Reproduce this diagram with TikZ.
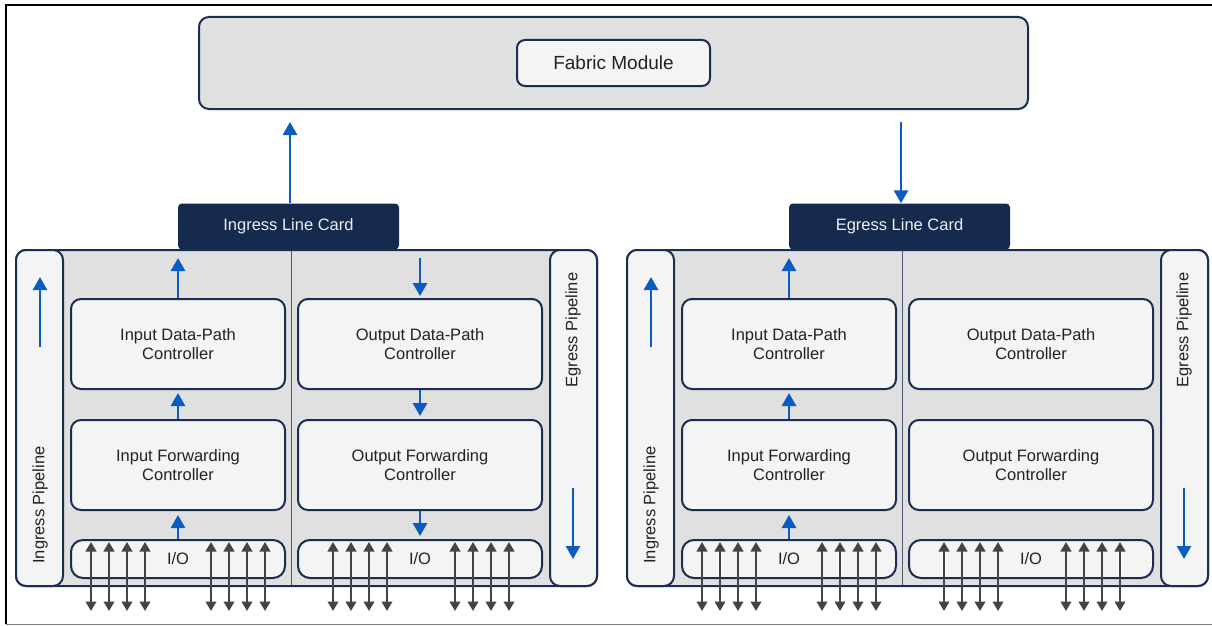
\documentclass[tikz,border=0pt]{standalone}
\usepackage{fontspec}
\setmainfont{Liberation Sans}
\usetikzlibrary{arrows.meta}
\definecolor{navy}{HTML}{1B2D50}
\definecolor{cardnavy}{HTML}{162A4E}
\definecolor{bodygray}{HTML}{E0E0E0}
\definecolor{boxfill}{HTML}{F4F4F4}
\definecolor{txt}{HTML}{222222}
\definecolor{flowblue}{HTML}{0B5CC0}
\definecolor{ioGray}{HTML}{444444}
\definecolor{divgray}{HTML}{4E5B70}
\begin{document}
\begin{tikzpicture}[x=1pt,y=-1pt,
  lbl/.style={font=\fontsize{16.5}{19}\selectfont, text=txt, align=center},
  box/.style={draw=navy, line width=2pt, fill=boxfill, rounded corners=10pt, inner sep=0pt, lbl},
  body/.style={draw=navy, line width=2pt, fill=bodygray, rounded corners=10pt, inner sep=0pt},
  strip/.style={draw=navy, line width=2pt, fill=boxfill, rounded corners=10pt, inner sep=0pt},
  lcard/.style={fill=cardnavy, rounded corners=4pt, inner sep=0pt, minimum width=221pt, minimum height=46pt,
    font=\fontsize{16.5}{19}\selectfont, text=white!92!cardnavy},
  flow/.style={draw=flowblue, line width=2.7pt, -{Triangle[width=14pt,length=13pt]}},
  io/.style={draw=ioGray, line width=2.6pt, {Triangle[width=10.5pt,length=9.5pt]}-{Triangle[width=10.5pt,length=9.5pt]}},
]
\useasboundingbox (0,0) rectangle (1212,626);
\fill[white] (0,0) rectangle (1212,626);
% outer frame
\draw[black, line width=2.5pt] (6,624) -- (6,5) -- (1212,5);
\draw[gray, line width=1.5pt] (6,624.5) -- (1212,624.5);

% fabric
\node[body, minimum width=829pt, minimum height=92pt] (fabric) at (613.5,63) {};
\node[box, rounded corners=8pt, minimum width=193pt, minimum height=46pt, font=\fontsize{19}{22}\selectfont] (fm) at (613.5,63) {Fabric Module};

\foreach \o/\p/\cardname in {0/i/Ingress Line Card, 611/e/Egress Line Card}{
  \node[body, minimum width=581pt, minimum height=336pt] (\p body) at (306.5+\o,418) {};
  \coordinate (\p divtop) at (291+\o,251);
  \coordinate (\p divbot) at (291+\o,585);
  \draw[divgray, line width=1pt] (\p divtop) -- (\p divbot);
  \node[strip, minimum width=47pt, minimum height=336pt] (\p ls) at (39.5+\o,418) {};
  \node[strip, minimum width=47pt, minimum height=336pt] (\p rs) at (573.5+\o,418) {};
  \node[lbl, rotate=90] (\p lst) at (40+\o,505) {Ingress Pipeline};
  \node[lbl, rotate=90] (\p rst) at (573+\o,330) {Egress Pipeline};
  \coordinate (\p la1) at (40+\o,347);
  \coordinate (\p la2) at (40+\o,277);
  \draw[flow] (\p la1) -- (\p la2);
  \coordinate (\p ra1) at (573+\o,488);
  \coordinate (\p ra2) at (573+\o,559);
  \draw[flow] (\p ra1) -- (\p ra2);
  \node[lcard] (\p lc) at (288.5+\o,226.5) {\cardname};
  \node[box, minimum width=214pt, minimum height=90pt] (\p idp) at (178+\o,344) {Input Data-Path\\Controller};
  \node[box, minimum width=214pt, minimum height=90pt] (\p ifc) at (178+\o,465) {Input Forwarding\\Controller};
  \node[box, rounded corners=12pt, minimum width=214pt, minimum height=38pt] (\p iio) at (178+\o,559) {I/O};
  \node[box, minimum width=244pt, minimum height=90pt] (\p odp) at (420+\o,344) {Output Data-Path\\Controller};
  \node[box, minimum width=244pt, minimum height=90pt] (\p ofc) at (420+\o,465) {Output Forwarding\\Controller};
  \node[box, rounded corners=12pt, minimum width=244pt, minimum height=38pt] (\p oio) at (420+\o,559) {I/O};
  \coordinate (\p up) at (178+\o,258);
  \draw[flow] (\p idp.north) -- (\p up);
  \draw[flow, shorten >=3pt] (\p ifc.north) -- (\p idp.south);
  \draw[flow, shorten >=4pt] (\p iio.north) -- (\p ifc.south);
  \foreach \x in {91,109,127,145,211,229,247,265,333,351,369,387,455,473,491,509}{
    \coordinate (\p iot\x) at (\x+\o,542);
    \coordinate (\p iob\x) at (\x+\o,611);
    \draw[io] (\p iot\x) -- (\p iob\x);
  }
}
% ingress output side arrows
\coordinate (odown) at (420,258);
\draw[flow, shorten >=2pt] (odown) -- (iodp.north);
\draw[flow, shorten >=3pt] (iodp.south) -- (iofc.north);
\draw[flow, shorten >=3pt] (iofc.south) -- (ioio.north);
% fabric connections
\coordinate (fup) at (290,122);
\draw[flow] (ilc.north -| fup) -- (fup);
\coordinate (fdown) at (901,122);
\draw[flow] (fdown) -- (elc.north -| fdown);
\end{tikzpicture}
\end{document}
